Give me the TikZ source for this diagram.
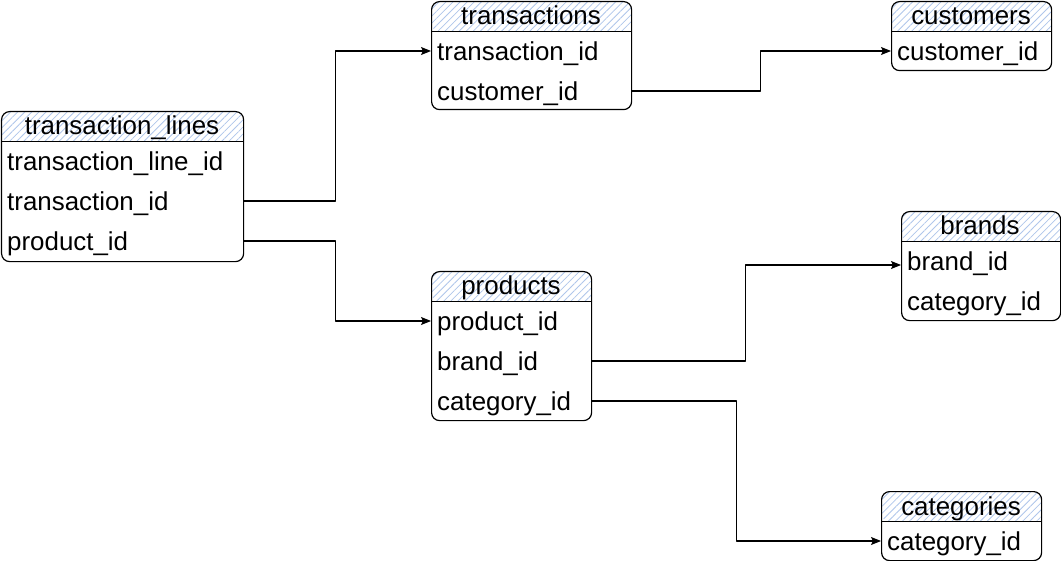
\documentclass[tikz,border=0pt]{standalone}
\usepackage{fontspec}
\setmainfont{Liberation Sans}
\usetikzlibrary{arrows.meta,patterns.meta}

\definecolor{hatchblue}{RGB}{175,198,235}

\tikzset{
  tbl/.style={draw, rounded corners=8bp, line width=1.2bp, fill=white, anchor=north west, inner sep=0pt,
    path picture={
      \fill[pattern={Lines[angle=45,distance=5bp,line width=0.8bp]}, pattern color=hatchblue]
        (path picture bounding box.north west) rectangle ([yshift=-30bp]path picture bounding box.north east);
      \draw[line width=1.2bp] ([yshift=-30bp]path picture bounding box.north west)
        -- ([yshift=-30bp]path picture bounding box.north east);
    }},
  head/.style={inner sep=0pt, text height=21bp, text depth=3bp},
  rowfield/.style={anchor=west, inner xsep=6bp, inner ysep=0pt, align=left, text height=22bp, text depth=3bp},
  fk/.style={->, line width=1.1bp},
}

\begin{document}
\begin{tikzpicture}[x=1bp,y=-1bp,>={Stealth[length=10bp,width=8bp,inset=2bp]},line join=round,
  every node/.append style={font=\fontsize{26}{30}\selectfont}]
  \useasboundingbox (0,0) rectangle (1061,561);
%%
  % Node: transaction_lines
  \node[tbl, minimum width=242bp, minimum height=150bp] (tl) at (1,111) {};
  \node[head] (tl-head) at (122,126) {transaction\_lines};
  \node[rowfield, text width=230bp] (tl-lid) at (1,161) {transaction\_line\_id};
  \node[rowfield, text width=230bp] (tl-tid) at (1,201) {transaction\_id};
  \node[rowfield, text width=230bp] (tl-pid) at (1,241) {product\_id};
  % Node: transactions
  \node[tbl, minimum width=200bp, minimum height=108bp] (tr) at (431,1) {};
  \node[head] (tr-head) at (531,16) {transactions};
  \node[rowfield, text width=188bp] (tr-tid) at (431,51) {transaction\_id};
  \node[rowfield, text width=188bp] (tr-cid) at (431,91) {customer\_id};
  % Node: customers
  \node[tbl, minimum width=160bp, minimum height=69bp] (cu) at (891,1) {};
  \node[head] (cu-head) at (971,16) {customers};
  \node[rowfield, text width=148bp] (cu-cid) at (891,51) {customer\_id};
  % Node: brands
  \node[tbl, minimum width=159bp, minimum height=109bp] (br) at (901,211) {};
  \node[head] (br-head) at (980,226) {brands};
  \node[rowfield, text width=147bp] (br-bid) at (901,261) {brand\_id};
  \node[rowfield, text width=147bp] (br-cat) at (901,301) {category\_id};
  % Node: products
  \node[tbl, minimum width=160bp, minimum height=149bp] (pr) at (431,271) {};
  \node[head] (pr-head) at (511,286) {products};
  \node[rowfield, text width=148bp] (pr-pid) at (431,321) {product\_id};
  \node[rowfield, text width=148bp] (pr-bid) at (431,361) {brand\_id};
  \node[rowfield, text width=148bp] (pr-cat) at (431,401) {category\_id};
  % Node: categories
  \node[tbl, minimum width=160bp, minimum height=69bp] (ca) at (881,491) {};
  \node[head] (ca-head) at (961,506) {categories};
  \node[rowfield, text width=148bp] (ca-cat) at (881,541) {category\_id};
%%
  % Edge: transaction_lines -> transactions
  \draw[fk] (tl-tid.east) -- ++(92,0) |- (tr-tid.west);
  % Edge: transactions -> customers
  \draw[fk] (tr-cid.east) -- ++(129,0) |- (cu-cid.west);
  % Edge: transaction_lines -> products
  \draw[fk] (tl-pid.east) -- ++(92,0) |- (pr-pid.west);
  % Edge: products -> brands
  \draw[fk] (pr-bid.east) -- ++(154,0) |- ([yshift=-4bp]br-bid.west);
  % Edge: products -> categories
  \draw[fk] (pr-cat.east) -- ++(145,0) |- (ca-cat.west);
%
\end{tikzpicture}
\end{document}
